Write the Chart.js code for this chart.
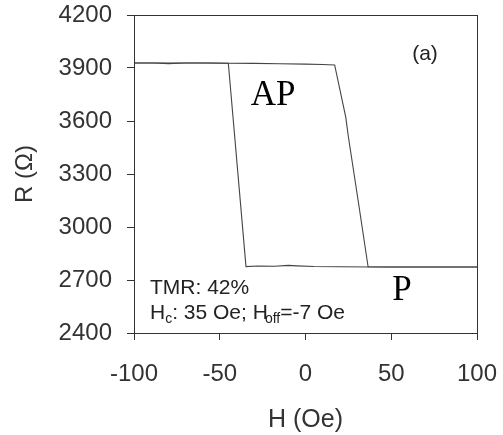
<!DOCTYPE html>
<html>
<head>
<meta charset="utf-8">
<script src="https://cdn.jsdelivr.net/npm/chart.js@4.4.1/dist/chart.umd.min.js"></script>
<style>
  html, body { margin: 0; padding: 0; background: #fff; }
  #wrap { width: 503px; height: 435px; position: relative; }
</style>
</head>
<body>
<div id="wrap"><canvas id="c" width="503" height="435"></canvas></div>
<script>
// Field sweep with H increasing: AP branch, switching to P near +36 Oe
const sweepUpH = [-100, -88, -80, -70, -55, -45, -30, -15, 0, 10, 17, 23.5, 25, 31, 36.5, 50, 70, 100];
const sweepUpR = [3928, 3928, 3925, 3928, 3928, 3927, 3926, 3924, 3922, 3920, 3917, 3620, 3511, 3130, 2775, 2774, 2774, 2774];

// Field sweep with H decreasing: P branch, switching back to AP near -35 Oe
const sweepDownH = [100, 80, 60, 40, 20, 5, -5, -10, -18, -28, -34.7, -45, -60, -80, -100];
const sweepDownR = [2774, 2774, 2774, 2774, 2775, 2776, 2780, 2783, 2778, 2779, 2776, 3927, 3928, 3928, 3928];

const xTicks = [-100, -50, 0, 50, 100];
const yTicks = [2400, 2700, 3000, 3300, 3600, 3900, 4200];

const toPoints = (hs, rs) => hs.map((h, i) => ({ x: h, y: rs[i] }));

const sans = "'Liberation Sans', Arial, Helvetica, sans-serif";
const serif = "'Liberation Serif', 'Times New Roman', serif";
const axisColor = '#333';
const textColor = '#333';

const frameAndNotes = {
  id: 'frameAndNotes',
  afterDraw(chart) {
    const { ctx, chartArea: a } = chart;
    ctx.save();
    // box around the plot
    ctx.strokeStyle = axisColor;
    ctx.lineWidth = 1;
    ctx.strokeRect(Math.round(a.left) + 0.5, Math.round(a.top) + 0.5,
                   Math.round(a.right - a.left), Math.round(a.bottom - a.top));

    ctx.fillStyle = '#222';
    ctx.textBaseline = 'alphabetic';

    // panel tag
    ctx.font = '21px ' + sans;
    ctx.textAlign = 'center';
    ctx.fillText('(a)', 425, 60);

    // state labels
    ctx.fillStyle = '#000';
    ctx.font = '35px ' + serif;
    ctx.fillText('AP', 273, 105);
    ctx.fillText('P', 402, 300);

    // sample parameters
    ctx.fillStyle = '#222';
    ctx.textAlign = 'left';
    ctx.font = '21px ' + sans;
    ctx.fillText('TMR: 42%', 150, 294);

    let x = 150;
    const y = 319;
    const big = '21px ' + sans, small = '14px ' + sans;
    ctx.font = big; ctx.fillText('H', x, y); x += ctx.measureText('H').width;
    ctx.font = small; ctx.fillText('c', x, y + 4); x += ctx.measureText('c').width;
    ctx.font = big; ctx.fillText(': 35 Oe; H', x, y); x += ctx.measureText(': 35 Oe; H').width - 3;
    ctx.font = small; ctx.fillText('off', x, y + 4); x += ctx.measureText('off').width;
    ctx.font = big; ctx.fillText('=-7 Oe', x, y);
    ctx.restore();
  }
};

new Chart(document.getElementById('c'), {
  type: 'scatter',
  data: {
    datasets: [
      {
        data: toPoints(sweepUpH, sweepUpR),
        showLine: true, borderColor: '#444', borderWidth: 1.1,
        pointRadius: 0, tension: 0, fill: false
      },
      {
        data: toPoints(sweepDownH, sweepDownR),
        showLine: true, borderColor: '#444', borderWidth: 1.1,
        pointRadius: 0, tension: 0, fill: false
      }
    ]
  },
  options: {
    responsive: false,
    animation: false,
    events: [],
    layout: { padding: { top: 15, right: 26, left: 0, bottom: 0 } },
    plugins: { legend: { display: false }, tooltip: { enabled: false } },
    scales: {
      x: {
        type: 'linear', min: -100, max: 100,
        afterBuildTicks: s => { s.ticks = xTicks.map(v => ({ value: v })); },
        afterFit: s => { s.height = 102; s.paddingLeft = 0; s.paddingRight = 0; },
        grid: { display: true, drawOnChartArea: false, drawTicks: true, tickLength: 7, color: axisColor, lineWidth: 1 },
        border: { display: true, color: axisColor, width: 1 },
        ticks: { color: textColor, font: { family: sans, size: 24 }, padding: 20, maxRotation: 0, callback: v => String(v) },
        title: { display: true, text: 'H (Oe)', color: textColor, font: { family: sans, size: 25 }, padding: { top: 0, bottom: 0 } }
      },
      y: {
        type: 'linear', min: 2400, max: 4200,
        afterBuildTicks: s => { s.ticks = yTicks.map(v => ({ value: v })); },
        afterFit: s => { s.width = 134; s.paddingTop = 0; s.paddingBottom = 0; },
        grid: { display: true, drawOnChartArea: false, drawTicks: true, tickLength: 7, color: axisColor, lineWidth: 1 },
        border: { display: true, color: axisColor, width: 1 },
        ticks: { color: textColor, font: { family: sans, size: 24 }, padding: 15, callback: v => String(v) },
        title: { display: true, text: 'R (Ω)', color: textColor, font: { family: sans, size: 24 }, padding: { top: 11, bottom: 0 } }
      }
    }
  },
  plugins: [frameAndNotes]
});
</script>
</body>
</html>
